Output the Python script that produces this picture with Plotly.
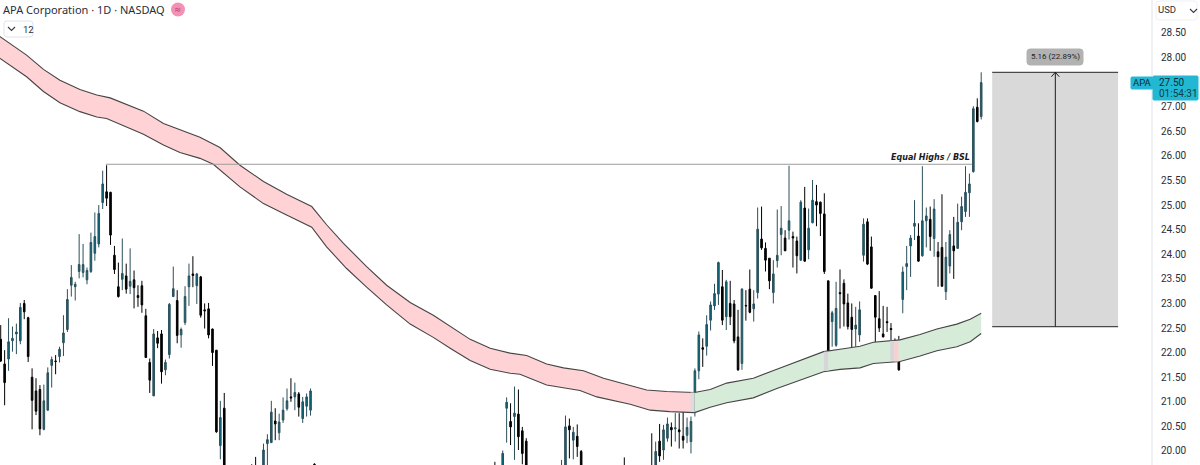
import plotly.graph_objects as go

TITLE = "APA Corporation · 1D · NASDAQ"

# candle index on the bar axis (bars that sit wholly below the view are left out)
bar_index = list(range(0, 58)) + [64, 65] + list(range(67, 81)) + [126] + list(range(128, 135)) + \
    list(range(143, 149)) + [159] + list(range(166, 251))

rising = [0,0,1,1,1,1,0,0,0,0,0,1,1,1,0,1,1,1,1,1,1,1,1,1,1,1,1,0,0,0,0,1,0,1,0,0,0,0,0,1,0,0,1,1,1,0,1,1,1,0,1,0,0,0,0,0,1,0,
          0,0,
          1,1,1,0,1,1,1,0,1,0,1,1,1,0,
          0,
          1,1,0,1,0,0,0,
          1,1,0,1,0,0,
          0,
          0,1,0,1,1,0,1,0,0,1,1,1,1,0,1,1,1,1,
          0,1,0,0,0,1,0,0,1,1,0,0,0,1,1,1,0,1,0,0,1,0,1,1,0,0,0,0,
          1,1,0,0,0,0,1,1,1,0,0,0,0,0,0,0,0,0,1,1,1,1,0,1,1,0,1,0,0,1,1,0,1,1,1,1,1,0,1]

highs = [22.56,22.05,22.70,22.53,22.59,23.01,23.07,22.73,21.68,21.48,21.34,21.35,21.70,21.92,21.95,22.12,22.76,23.29,23.78,23.44,
         24.41,24.21,23.73,24.44,24.85,25.00,25.70,25.81,25.27,24.17,23.83,24.32,23.81,24.12,23.67,23.37,23.46,22.89,21.88,22.48,
         22.44,22.46,21.86,23.01,23.75,23.27,22.51,23.35,23.81,23.96,23.62,23.56,23.00,23.01,22.49,22.05,21.02,21.18,
         19.73,19.88,
         20.15,20.34,21.02,20.87,20.76,21.09,21.27,21.48,21.39,21.20,21.10,21.17,21.27,19.75,
         19.78,
         20.01,21.09,20.97,21.31,21.25,20.49,20.26,
         19.82,20.72,20.66,20.49,20.54,20.02,
         19.87,
         20.36,20.19,20.55,20.53,20.68,20.58,20.77,20.77,20.93,20.68,20.70,21.68,22.43,22.29,22.76,23.04,23.40,23.85,
         23.68,23.48,23.46,23.07,22.87,23.31,23.27,23.69,23.27,24.95,24.97,24.24,23.92,23.88,24.91,24.98,24.49,25.80,24.46,24.36,
         25.10,25.37,24.93,25.51,25.41,25.07,25.24,23.46,
         22.85,23.44,23.69,23.49,23.20,23.00,22.93,23.04,24.73,24.73,24.36,23.17,23.25,22.95,22.93,22.60,22.29,22.34,23.75,24.17,
         24.39,25.10,24.63,25.79,24.95,24.97,25.12,24.25,25.22,24.25,24.49,24.76,25.03,25.17,25.79,25.64,27.01,27.17,27.70]

body_tops = [22.27,21.77,22.22,22.29,22.42,22.92,23.00,22.71,21.50,21.22,21.25,21.02,21.59,21.86,21.83,22.07,22.40,23.08,23.53,23.39,
             23.79,23.79,23.67,24.24,24.36,24.83,25.43,25.27,25.26,23.98,23.34,23.61,23.56,23.45,23.48,23.16,23.36,22.75,21.80,22.38,
             22.30,22.38,21.80,22.98,23.30,23.06,22.47,23.14,23.56,23.60,23.60,23.54,22.87,22.89,22.48,22.05,20.68,20.87,
             19.50,19.60,
             20.02,20.23,20.79,20.61,20.59,20.83,21.02,21.10,21.19,21.16,21.00,21.10,21.22,19.73,
             19.60,
             19.95,20.99,20.60,20.77,20.75,20.41,20.20,
             19.60,20.49,20.51,20.38,20.30,19.99,
             19.60,
             19.60,19.99,20.20,20.43,20.55,20.48,20.47,20.43,20.30,20.48,20.60,21.63,22.36,22.10,22.57,22.97,23.20,23.83,
             23.34,23.44,23.00,22.99,22.32,23.29,22.96,23.29,22.99,24.51,24.31,24.12,23.92,23.60,23.98,24.53,24.33,24.68,24.36,24.27,
             25.06,24.94,24.53,25.10,25.07,25.06,24.82,23.46,
             22.81,22.90,23.22,23.41,23.01,22.72,22.56,22.87,24.61,24.66,24.15,23.16,22.69,22.38,22.63,22.49,22.08,21.95,23.64,23.81,
             24.33,24.63,24.37,24.68,24.78,24.71,24.92,24.05,24.14,23.94,24.40,24.17,24.65,24.97,25.26,25.43,26.96,26.99,27.49]

body_bottoms = [21.83,21.39,21.87,22.24,22.38,22.24,22.83,21.92,21.03,20.81,20.45,20.44,20.83,21.74,21.82,21.92,22.20,22.47,23.37,23.34,
                23.65,23.63,23.48,23.65,24.02,24.21,25.05,25.14,24.39,23.69,23.14,23.49,23.29,23.35,23.32,23.12,22.97,21.90,21.44,21.12,
                22.19,21.61,21.65,21.96,23.14,22.35,22.36,22.61,23.34,23.57,23.36,22.76,22.85,22.36,22.00,20.39,20.11,19.40,
                19.20,19.30,
                19.50,20.15,20.17,20.55,20.37,20.63,20.86,21.08,21.10,20.89,20.66,20.91,20.83,19.50,
                19.40,
                19.50,20.87,20.49,20.70,20.29,19.95,19.60,
                19.40,19.50,20.43,20.22,20.09,19.50,
                19.40,
                19.40,19.50,19.90,20.02,20.26,20.43,20.45,20.39,20.22,20.32,20.19,20.78,21.63,22.07,22.13,22.66,22.95,23.19,
                22.66,22.73,22.73,22.24,21.65,21.78,22.95,22.82,22.89,23.22,24.13,23.88,23.46,23.22,23.87,24.40,24.07,24.49,24.33,23.97,
                23.88,23.86,24.09,24.64,25.00,24.83,23.65,21.92,
                22.63,22.15,23.20,22.99,22.53,22.47,22.48,22.36,23.98,23.80,23.31,22.72,22.50,22.32,22.61,22.47,22.02,21.65,23.08,23.75,
                24.17,24.57,23.86,23.97,24.68,24.36,24.32,23.95,23.35,23.24,23.76,24.07,24.12,24.66,24.87,25.25,25.68,26.70,26.80]

lows = [21.81,20.93,21.63,22.02,21.97,22.17,22.68,21.81,20.44,20.73,20.32,20.42,20.82,21.29,21.56,21.80,21.93,22.42,23.14,23.06,
        23.51,23.53,23.39,23.62,23.87,24.14,24.92,24.98,24.19,23.60,23.12,23.27,23.20,23.19,22.90,22.93,22.81,21.90,21.18,21.12,
        22.09,21.37,21.54,21.88,23.13,22.19,22.10,22.56,22.95,23.33,22.99,22.71,22.49,22.29,21.73,20.37,19.83,19.20,
        19.10,19.20,
        19.30,19.70,20.17,20.22,20.22,20.57,20.82,21.00,20.83,20.70,20.57,20.70,20.72,19.30,
        19.30,
        19.30,20.17,20.12,19.82,20.02,19.73,19.40,
        19.30,19.30,19.85,19.83,19.88,19.30,
        19.30,
        19.30,19.40,19.78,19.82,20.19,20.09,20.19,20.05,20.05,20.16,19.95,20.70,21.46,21.71,21.94,22.45,22.87,22.97,
        22.56,22.46,22.56,22.19,21.63,21.65,22.65,22.80,22.63,23.10,24.09,23.65,23.29,23.00,23.73,23.98,24.07,24.30,23.73,23.61,
        23.87,23.85,23.90,24.63,24.57,24.37,23.60,21.85,
        22.12,22.12,22.49,22.53,22.47,22.05,22.12,22.22,23.85,23.78,23.30,22.20,22.42,22.31,22.42,22.09,21.81,21.63,22.80,23.27,
        23.54,24.29,23.85,23.95,24.14,24.07,23.95,23.34,23.34,23.07,23.61,23.50,24.11,24.49,24.76,24.76,25.66,26.68,26.74]

red_upper_x = [-1,6.6,10.9,15.1,20.2,24.5,27.9,32.1,36.4,41.5,45.7,50.8,55.9,61.0,67.0,72.9,79.3,83.1,87.4,93.3,98.4,104.4,110.3,114.6,119.7,124.8,129.9,134.1,139.2,143.5,148.6,153.7,161.3,164.7,169.8,176.9]
red_upper_y = [28.47,28.05,27.76,27.54,27.35,27.24,27.18,27.05,26.91,26.66,26.53,26.38,26.17,25.81,25.48,25.22,24.97,24.60,24.22,23.75,23.37,23.02,22.76,22.53,22.27,22.09,21.99,21.94,21.77,21.69,21.63,21.48,21.32,21.24,21.21,21.19]
red_lower_x = [-1,6.6,10.9,15.1,20.2,24.5,27.0,32.1,36.4,41.5,45.7,50.8,54.2,61.0,67.0,72.9,79.3,83.1,88.2,93.3,98.4,104.4,110.3,114.6,119.7,124.8,129.9,132.4,139.2,147.7,152.0,160.5,165.6,170.6,176.9]
red_lower_y = [28.03,27.61,27.31,27.08,26.90,26.79,26.76,26.59,26.44,26.22,26.07,25.95,25.83,25.37,25.03,24.80,24.55,24.15,23.71,23.33,22.97,22.58,22.31,22.09,21.84,21.66,21.58,21.56,21.34,21.23,21.10,20.95,20.83,20.80,20.78]
green_x = [176.9,180.9,185.1,191.9,197.9,203.8,209.8,214.0,219.1,222.5,229.3,234.4,238.7,243.8,247.2,250.0]
green_upper_y = [21.19,21.25,21.38,21.48,21.66,21.84,22.02,22.07,22.13,22.21,22.26,22.37,22.48,22.58,22.68,22.80]
green_lower_y = [20.78,20.89,20.98,21.08,21.27,21.44,21.61,21.66,21.69,21.78,21.82,21.93,22.04,22.12,22.22,22.39]

touch_left = [175.9, 209.9, 226.8, 227.8]
touch_right = [176.8, 211.0, 227.8, 228.9]
touch_low = [20.80, 21.63, 21.84, 21.82]
touch_high = [21.19, 22.02, 22.24, 22.22]
touch_fill = ["#dcdcdc", "#d6d6da", "#d6d6da", "#f8d0d4"]

TICKS = [20.0,20.5,21.0,21.5,22.0,22.5,23.0,23.5,24.0,24.5,25.0,25.5,26.0,26.5,27.0,28.0,28.5]
BSL_PRICE = 25.83
BSL_START, BSL_END = 26.8, 247.7
TARGET_TOP, TARGET_BOTTOM = 27.70, 22.53
TARGET_LEFT, TARGET_RIGHT, TARGET_MID = 252.8, 284.9, 268.9
LAST_PRICE = "27.50"
COUNTDOWN = "01:54:31"

W_PLOT, H = 1152, 465
INK = "#131722"
TAG = "#22b8d3"
TEAL = "#006d82"
LABEL_FONT = "Roboto"

px = lambda x: x / W_PLOT
py = lambda y: 1 - y / H


def rrect(x0, y0, x1, y1, r):
    a, b, c, d = px(x0), py(y0), px(x1), py(y1)
    rx, ry = r / W_PLOT, r / H
    return (f"M {a+rx} {b} L {c-rx} {b} Q {c} {b} {c} {b-ry} L {c} {d+ry} Q {c} {d} {c-rx} {d} "
            f"L {a+rx} {d} Q {a} {d} {a} {d+ry} L {a} {b-ry} Q {a} {b} {a+rx} {b} Z")


opens = [b if u else t for u, t, b in zip(rising, body_tops, body_bottoms)]
closes = [t if u else b for u, t, b in zip(rising, body_tops, body_bottoms)]

fig = go.Figure()

# bands
def band(xu, yu, xl, yl, fill):
    fig.add_trace(go.Scatter(x=xu + xl[::-1], y=yu + yl[::-1], mode="lines", fill="toself",
                             fillcolor=fill, line=dict(width=0), hoverinfo="skip", showlegend=False))
    for xs, ys in ((xu, yu), (xl, yl)):
        fig.add_trace(go.Scatter(x=xs, y=ys, mode="lines", line=dict(color="#454545", width=1.1),
                                 hoverinfo="skip", showlegend=False))

band(red_upper_x, red_upper_y, red_lower_x, red_lower_y, "#ffd3d6")
band(green_x, green_upper_y, green_x, green_lower_y, "#d6ebd8")

# band touch highlights
for x0, x1, y0, y1, c in zip(touch_left, touch_right, touch_low, touch_high, touch_fill):
    fig.add_trace(go.Scatter(x=[x0, x1, x1, x0, x0], y=[y0, y0, y1, y1, y0], mode="lines", fill="toself",
                             fillcolor=c, line=dict(width=0), hoverinfo="skip", showlegend=False))

shapes = []

fig.add_trace(go.Candlestick(
    x=bar_index, open=opens, high=highs, low=lows, close=closes, whiskerwidth=0,
    increasing=dict(line=dict(color="#2b4f5a", width=1), fillcolor=TEAL),
    decreasing=dict(line=dict(color="#000000", width=1), fillcolor="#000000"),
    hoverinfo="skip", showlegend=False))

# equal highs
shapes.append(dict(type="line", x0=BSL_START, x1=BSL_END, y0=BSL_PRICE, y1=BSL_PRICE, xref="x", yref="y",
                   line=dict(color="#9c9c9c", width=1)))
# target box
shapes.append(dict(type="rect", x0=TARGET_LEFT, x1=TARGET_RIGHT, y0=TARGET_BOTTOM, y1=TARGET_TOP, xref="x", yref="y",
                   fillcolor="#d9d9d9", line_width=0, layer="below"))
for yy in (TARGET_TOP, TARGET_BOTTOM):
    shapes.append(dict(type="line", x0=TARGET_LEFT, x1=TARGET_RIGHT, y0=yy, y1=yy, xref="x", yref="y",
                       line=dict(color="#4a4a4a", width=1.3)))
shapes.append(dict(type="line", x0=TARGET_MID, x1=TARGET_MID, y0=TARGET_BOTTOM, y1=TARGET_TOP, xref="x", yref="y",
                   line=dict(color="#1a1a1a", width=1)))
for dx in (-1.0, 1.0):
    shapes.append(dict(type="line", x0=TARGET_MID, x1=TARGET_MID + dx, y0=TARGET_TOP, y1=TARGET_TOP - 0.09, xref="x", yref="y",
                       line=dict(color="#1a1a1a", width=1)))

# axis divider + interface chips
shapes.append(dict(type="line", x0=1, x1=1, y0=0, y1=1, xref="paper", yref="paper", line=dict(color="#e0e3eb", width=1)))
chips = [(rrect(1027, 49, 1083, 65, 3), "#b2b2b2", None),
         (rrect(1131, 77, 1153, 89, 1), TAG, None),
         (rrect(1153, 76, 1198, 100, 1), TAG, None),
         (rrect(1156, 1, 1197, 20, 3), "#ffffff", "#eef0f3"),
         (rrect(4, 21, 33, 37, 3), "#ffffff", "#e0e3eb")]
for path, fill, edge in chips:
    shapes.append(dict(type="path", path=path, xref="paper", yref="paper", fillcolor=fill,
                       line=dict(color=edge or fill, width=1)))
shapes.append(dict(type="circle", x0=px(171), x1=px(185), y0=py(16.5), y1=py(2.5), xref="paper", yref="paper",
                   fillcolor="#f391b5", line_width=0))
for x0, y0 in ((8, 27), (1190, 9)):
    shapes.append(dict(type="path", xref="paper", yref="paper",
                       path=f"M {px(x0)} {py(y0)} L {px(x0+3.5)} {py(y0+3.5)} L {px(x0+7)} {py(y0)}",
                       line=dict(color="#363a45", width=1.1)))

def note(x, y, text, size=11, color=INK, anchor="left", font=LABEL_FONT, **kw):
    return dict(x=px(x), y=py(y), xref="paper", yref="paper", text=text, showarrow=False,
                xanchor=anchor, yanchor="middle", borderpad=0, font=dict(family=font, size=size, color=color), **kw)

annotations = [
    note(2, 9.5, TITLE, size=11, color="#2a2e39", font="Noto Sans"),
    note(178, 9.5, "≈", size=10, color="#c2185b", anchor="center", font="Noto Sans"),
    note(22, 29, "12", size=9.5, color="#2a2e39"),
    note(1157, 10, "USD", size=9.5, color="#2a2e39"),
    note(1055, 57, "5.16 (22.89%)", size=8, color="#222222", anchor="center"),
    note(1142, 83, "APA", size=9.5, color="#0b2c36", anchor="center"),
    note(1157.5, 82.5, LAST_PRICE, size=10, color="#0b2c36"),
    note(1157.5, 93.5, COUNTDOWN, size=10, color="#0e3f4d"),
    note(971, 157.5, "<b><i>Equal Highs / BSL</i></b>", size=8, color="#1a1a1a", anchor="right", font="DejaVu Sans"),
]

fig.update_layout(
    width=1200, height=H, margin=dict(l=0, r=48, t=0, b=0),
    paper_bgcolor="#ffffff", plot_bgcolor="#ffffff", showlegend=False,
    shapes=shapes, annotations=annotations, hovermode=False, boxgap=0.42,
    xaxis=dict(range=[-0.18, 293.55], visible=False, rangeslider=dict(visible=False), fixedrange=True),
    yaxis=dict(range=[19.715, 29.17], side="right", tickvals=TICKS, ticktext=[f"{t:.2f}" for t in TICKS],
               showgrid=False, zeroline=False, showline=False, ticks="outside", ticklen=6, tickcolor="rgba(0,0,0,0)",
               tickfont=dict(family="Roboto", size=10, color="#2a2e39"), fixedrange=True),
)

fig.write_html("out.html", config=dict(displayModeBar=False),
               post_script="document.body.style.margin='0';document.documentElement.style.overflow='hidden';")
